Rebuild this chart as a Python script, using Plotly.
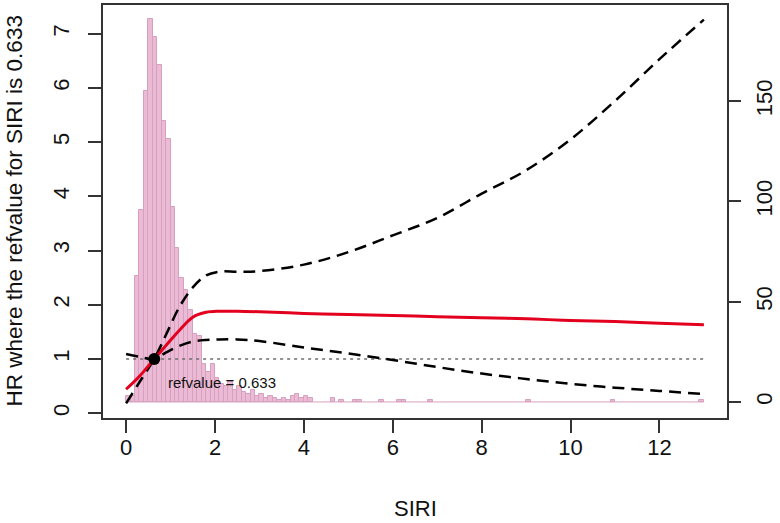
import plotly.graph_objects as go

# ---- data ----
x_fit = [0, 0.3, 0.633, 0.9, 1.2, 1.5, 1.8, 2.1, 2.5, 3, 4, 5, 6, 7, 8, 9, 10, 11, 12, 13]
hr = [0.44, 0.68, 1.0, 1.25, 1.53, 1.77, 1.86, 1.88, 1.88, 1.87, 1.84, 1.82, 1.80, 1.78, 1.76, 1.74, 1.71, 1.69, 1.66, 1.63]
hr_upper = [0.18, 0.57, 1.0, 1.45, 1.96, 2.32, 2.54, 2.61, 2.61, 2.62, 2.74, 2.97, 3.28, 3.60, 4.05, 4.48, 5.05, 5.76, 6.53, 7.26]
hr_lower = [1.09, 1.04, 1.0, 1.12, 1.24, 1.32, 1.35, 1.36, 1.36, 1.33, 1.21, 1.10, 0.98, 0.85, 0.73, 0.63, 0.54, 0.47, 0.41, 0.35]

ref_value = 0.633
ref_hr = 1.0

# histogram of SIRI (bin width 0.1): bin left edges and counts
bin_left = [0.0, 0.1, 0.2, 0.3, 0.4, 0.5, 0.6, 0.7, 0.8, 0.9,
            1.0, 1.1, 1.2, 1.3, 1.4, 1.5, 1.6, 1.7, 1.8, 1.9,
            2.0, 2.1, 2.2, 2.3, 2.4, 2.5, 2.6, 2.7, 2.8, 2.9,
            3.0, 3.1, 3.2, 3.3, 3.4, 3.5, 3.6, 3.7, 3.8, 3.9,
            4.0, 4.1, 4.6, 4.8, 5.1, 5.2, 5.7, 6.1, 6.2, 6.8,
            9.0, 10.9, 12.9]
counts = [3, 3, 63, 96, 155, 191, 182, 168, 140, 131,
          97, 77, 62, 56, 46, 34, 33, 19, 15, 19,
          12, 9, 8, 10, 6, 8, 5, 4, 6, 3,
          4, 2, 3, 2, 1, 2, 1, 3, 4, 2,
          3, 2, 2, 1, 1, 1, 1, 1, 1, 1,
          1, 1, 1]
bin_width = 0.1
hist_range = [0.0, 13.0]

x_ticks = [0, 2, 4, 6, 8, 10, 12]
hr_ticks = [0, 1, 2, 3, 4, 5, 6, 7]
count_ticks = [0, 50, 100, 150]

FONT = "Liberation Sans, Arial, sans-serif"
PINK = "#EBBAD4"
PINK_EDGE = "#D7A0BF"
FS = 22

fig = go.Figure()

# histogram on primary (right) axis, drawn underneath
fig.add_trace(go.Bar(
    x=[b + bin_width / 2 for b in bin_left], y=counts, width=bin_width,
    marker=dict(color=PINK, line=dict(color=PINK_EDGE, width=1)),
    yaxis="y", showlegend=False, hoverinfo="skip"))
fig.add_trace(go.Scatter(
    x=hist_range, y=[0, 0], mode="lines",
    line=dict(color=PINK_EDGE, width=1), yaxis="y", showlegend=False))

# reference line HR = 1
fig.add_trace(go.Scatter(
    x=[x_fit[0], x_fit[-1]], y=[ref_hr, ref_hr], mode="lines",
    line=dict(color="#6e6e6e", width=1.5, dash="3px,4px"),
    yaxis="y2", showlegend=False))

# confidence limits
fig.add_trace(go.Scatter(
    x=x_fit, y=hr_upper, mode="lines", line_shape="spline",
    line=dict(color="black", width=2.5, dash="12px,7px"),
    yaxis="y2", showlegend=False))
fig.add_trace(go.Scatter(
    x=x_fit, y=hr_lower, mode="lines", line_shape="spline",
    line=dict(color="black", width=2.5, dash="12px,7px"),
    yaxis="y2", showlegend=False))

# HR curve
fig.add_trace(go.Scatter(
    x=x_fit, y=hr, mode="lines", line_shape="spline",
    line=dict(color="#E3001F", width=3),
    yaxis="y2", showlegend=False))

# reference point
fig.add_trace(go.Scatter(
    x=[ref_value], y=[ref_hr], mode="markers",
    marker=dict(color="black", size=12),
    yaxis="y2", showlegend=False))

axis_common = dict(showgrid=False, zeroline=False, showline=True, automargin=False,
                   linecolor="#333333", linewidth=1.5,
                   ticks="outside", tickcolor="#333333", tickwidth=1.5,
                   tickfont=dict(family=FONT, size=FS, color="#111111"))

fig.update_layout(
    width=780, height=523,
    margin=dict(l=103, r=53, t=5, b=105),
    paper_bgcolor="white", plot_bgcolor="white",
    bargap=0,
    xaxis=dict(range=[-0.52, 13.52], tickvals=x_ticks, ticklen=13, mirror=True,
               ticklabelstandoff=-4, **axis_common),
    yaxis=dict(range=[-8, 198], side="right", tickvals=count_ticks, ticklen=12,
               tickangle=-90, ticklabelstandoff=5, **axis_common),
    yaxis2=dict(range=[-0.09, 7.53], side="left", overlaying="y", tickvals=hr_ticks,
                ticklen=13, tickangle=-90, ticklabelstandoff=10, **axis_common),
    annotations=[
        dict(text="SIRI", x=0.5, y=-0.218, xref="paper", yref="paper",
             showarrow=False, xanchor="center", yanchor="middle",
             font=dict(family=FONT, size=FS, color="#111111")),
        dict(text="HR where the refvalue for SIRI is 0.633", x=-0.1426, y=0.5,
             xref="paper", yref="paper", textangle=-90, showarrow=False,
             xanchor="center", yanchor="middle",
             font=dict(family=FONT, size=22.5, color="#111111")),
        dict(text="refvalue = 0.633", x=ref_value + 0.27, y=0.57, xref="x", yref="y2",
             showarrow=False, xanchor="left", yanchor="middle",
             font=dict(family=FONT, size=15, color="#111111")),
    ],
)

fig.write_html("out.html", config={"displayModeBar": False},
               post_script="document.body.style.margin='0';document.body.style.padding='0';")
